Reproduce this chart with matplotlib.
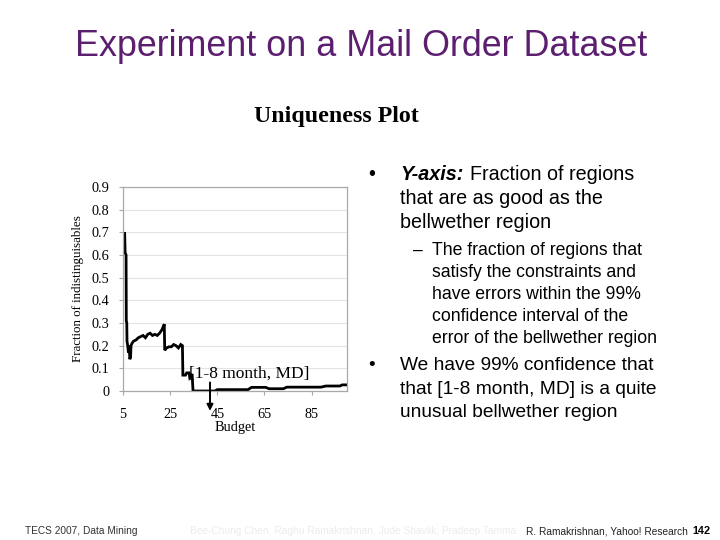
import matplotlib
matplotlib.use("Agg")
import matplotlib.pyplot as plt

# data
budget = [5.0, 5.2, 5.5, 5.7, 5.9, 6.3, 6.4, 6.6, 6.7, 7.0, 7.3, 7.6, 7.9, 8.2, 8.4, 8.8,
          9.5, 10.5, 11.5, 12.5, 13.5, 14.5, 15.5, 16.5, 17.5, 18.5, 19.5, 20.5, 21.5, 22.5,
          22.7, 23.5, 24.5, 25.5, 26.5, 27.5, 28.5, 29.5, 30.2, 30.4, 31.5, 32.0, 33.0, 33.3,
          34.3, 34.7, 44, 45, 58, 59.5, 65.5, 67, 73, 74.5, 89, 91, 97, 98, 100]
fraction = [0.62, 0.70, 0.66, 0.70, 0.61, 0.60, 0.31, 0.30, 0.22, 0.20, 0.17, 0.20, 0.14, 0.15,
            0.20, 0.21, 0.22, 0.225, 0.235, 0.24, 0.245, 0.235, 0.25, 0.255, 0.245, 0.25, 0.245,
            0.255, 0.27, 0.295, 0.18, 0.19, 0.195, 0.195, 0.205, 0.20, 0.19, 0.205, 0.20, 0.07,
            0.07, 0.08, 0.08, 0.06, 0.075, 0.0, 0.0, 0.006, 0.006, 0.016, 0.016, 0.01, 0.01,
            0.017, 0.017, 0.022, 0.022, 0.027, 0.027]
xticks = [5, 25, 45, 65, 85]
yticks = [0, 0.1, 0.2, 0.3, 0.4, 0.5, 0.6, 0.7, 0.8, 0.9]
ylabels = ["0", "0.1", "0.2", "0.3", "0.4", "0.5", "0.6", "0.7", "0.8", "0.9"]
marked_budget = 41.9

W, H = 720, 540
def px(x, y):
    return x / W, 1 - y / H

fig = plt.figure(figsize=(7.2, 5.4), dpi=100)
sans = "Liberation Sans"
serif = "Liberation Serif"
purple = "#5C1F70"

# title + subtitle
fig.text(*px(361, 56), "Experiment on a Mail Order Dataset", ha="center", va="baseline",
         fontsize=25.8, color=purple, family=sans)
fig.text(*px(336, 122), "Uniqueness Plot", ha="center", va="baseline",
         fontsize=17.2, fontweight="bold", family=serif)

# chart
l, b = px(123, 391)
r, t = px(347, 187)
ax = fig.add_axes([l, b, r - l, t - b])
ax.plot(budget, fraction, color="black", lw=2.0, solid_joinstyle="miter")
ax.set_xlim(5, 100)
ax.set_ylim(0, 0.9)
ax.set_xticks(xticks)
ax.set_yticks(yticks)
ax.set_yticklabels(ylabels)
ax.yaxis.grid(True, color="#e4e4e4", lw=0.8)
ax.set_axisbelow(True)
for s in ax.spines.values():
    s.set_color("#a8a8a8")
    s.set_linewidth(0.9)
ax.tick_params(length=3, width=0.8, color="#a8a8a8", labelsize=10.3)
ax.tick_params(axis="y", pad=7)
ax.tick_params(axis="x", pad=9)
for lab in ax.get_xticklabels() + ax.get_yticklabels():
    lab.set_family(serif)
ax.set_xlabel("Budget", family=serif, fontsize=10.3, labelpad=0)
ax.set_ylabel("Fraction of indistinguisables", family=serif, fontsize=9.4, labelpad=5)
ax.text(33.0, 0.075, "[1-8 month, MD]", family=serif, fontsize=12.5, va="center", ha="left")
ax.annotate("", xy=(marked_budget, -0.1), xytext=(marked_budget, 0.05),
            annotation_clip=False,
            arrowprops=dict(arrowstyle="-|>", color="black", lw=1.4, mutation_scale=9))

# bullets
fs1, fs2, fs3 = 14.2, 12.7, 13.8
fig.text(*px(368, 180), "\u2022", fontsize=fs1, family=sans, va="baseline")
fig.text(*px(400, 180), "Y-axis:", fontsize=fs1, family=sans, va="baseline",
         fontweight="bold", style="italic")
fig.text(*px(470, 180), "Fraction of regions", fontsize=fs1, family=sans, va="baseline")
fig.text(*px(400, 204), "that are as good as the", fontsize=fs1, family=sans, va="baseline")
fig.text(*px(400, 228), "bellwether region", fontsize=fs1, family=sans, va="baseline")

fig.text(*px(413, 255), "\u2013", fontsize=fs2, family=sans, va="baseline")
sub = ["The fraction of regions that", "satisfy the constraints and",
       "have errors within the 99%", "confidence interval of the",
       "error of the bellwether region"]
for i, line in enumerate(sub):
    fig.text(*px(432, 255 + 22 * i), line, fontsize=fs2, family=sans, va="baseline")

fig.text(*px(368, 370), "\u2022", fontsize=fs3, family=sans, va="baseline")
b2 = ["We have 99% confidence that", "that [1-8 month, MD] is a quite",
      "unusual bellwether region"]
for i, line in enumerate(b2):
    fig.text(*px(400, 370 + 23.5 * i), line, fontsize=fs3, family=sans, va="baseline")

# footer
fig.text(*px(25, 534), "TECS 2007, Data Mining", fontsize=7.3, family=sans, color="#333333",
         va="baseline")
fig.text(*px(190, 534), "Bee-Chung Chen, Raghu Ramakrishnan, Jude Shavlik, Pradeep Tamma",
         fontsize=7.3, family=sans, color="#ececec", va="baseline")
fig.text(*px(688, 534), "R. Ramakrishnan, Yahoo! Research", fontsize=7.3, family=sans,
         color="#222222", va="baseline", ha="right")
fig.text(*px(692, 534), "142", fontsize=7.8, family=sans, fontweight="bold", va="baseline")

fig.savefig("out.png", dpi=100)
